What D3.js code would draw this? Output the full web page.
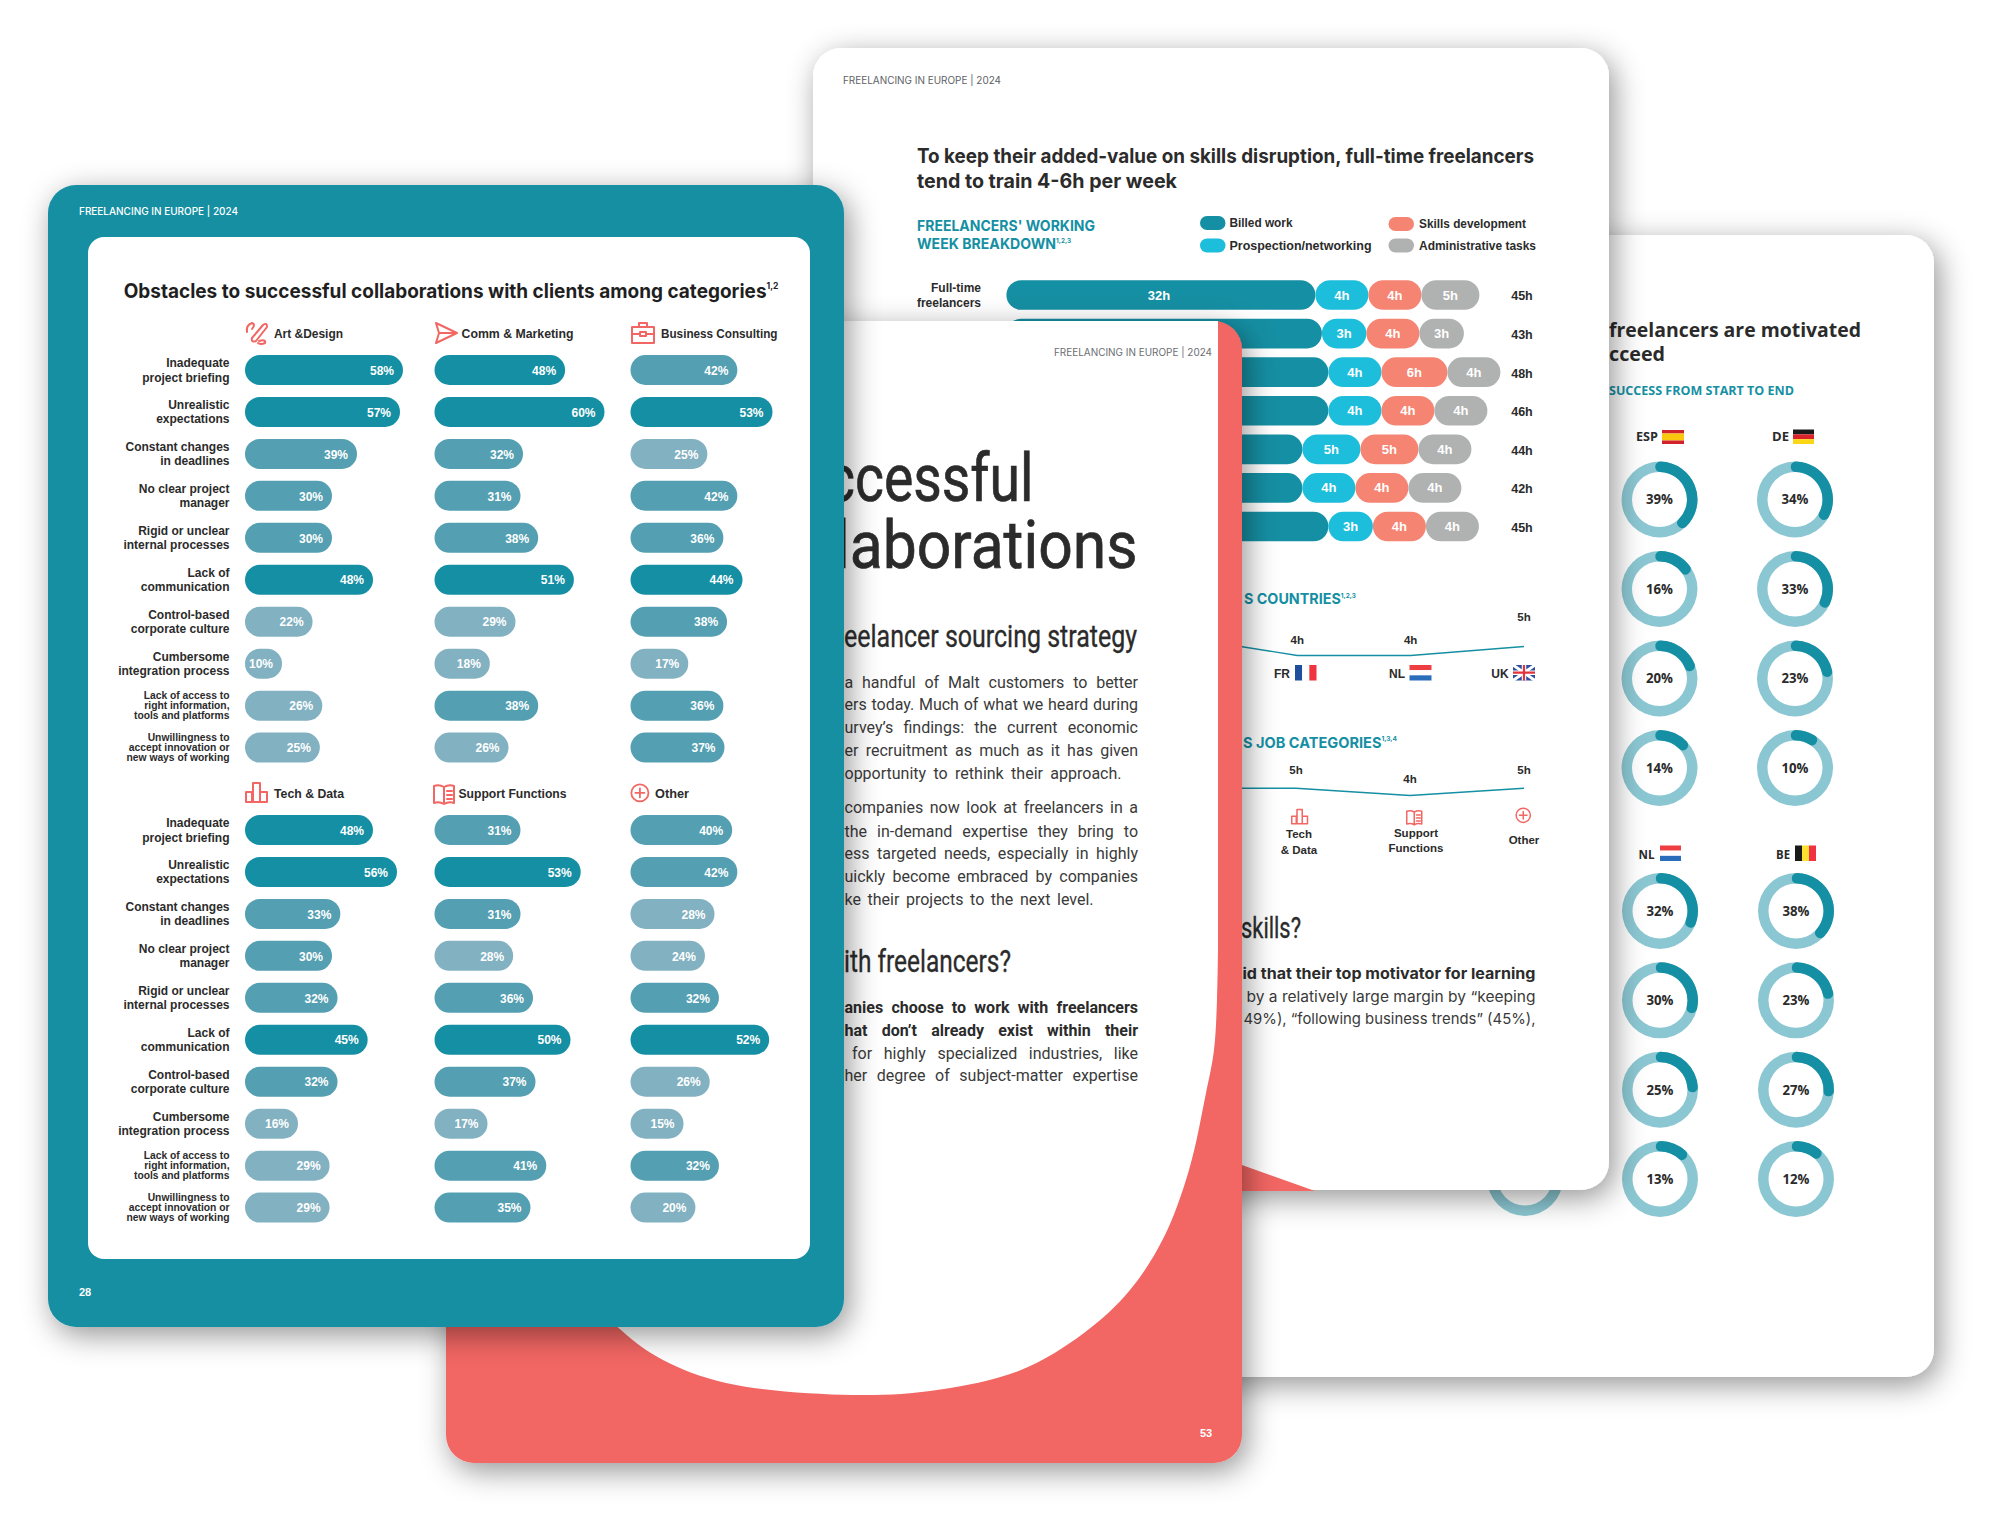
<!DOCTYPE html>
<html><head><meta charset="utf-8">
<script src="https://cdn.jsdelivr.net/npm/d3@7"></script>
<style>html,body{margin:0;padding:0;background:#fff}svg{display:block}</style>
</head><body><svg id="c" width="2000" height="1529" viewBox="0 0 2000 1529"></svg>
<script>
// ---------- DATA ----------
const obstacles = [
  ["Inadequate","project briefing"],["Unrealistic","expectations"],["Constant changes","in deadlines"],
  ["No clear project","manager"],["Rigid or unclear","internal processes"],["Lack of","communication"],
  ["Control-based","corporate culture"],["Cumbersome","integration process"],
  ["Lack of access to","right information,","tools and platforms"],["Unwillingness to","accept innovation or","new ways of working"]];
const artDesign   = [58,57,39,30,30,48,22,10,26,25];
const commMarket  = [48,60,32,31,38,51,29,18,38,26];
const bizConsult  = [42,53,25,42,36,44,38,17,36,37];
const techData    = [48,56,33,30,32,45,32,16,29,29];
const supportFn   = [31,53,31,28,36,50,37,17,41,35];
const otherCat    = [40,42,28,24,32,52,26,15,32,20];

const weekSeries  = ["Billed work","Prospection/networking","Skills development","Administrative tasks"];
const billed      = [32,33,34,34,30,30,34];
const prospection = [4,3,4,4,5,4,3];
const skills      = [4,4,6,4,5,4,4];
const admin       = [5,3,4,4,4,4,4];
const weekTotals  = [45,43,48,46,44,42,45];

const countryCats = ["DE","FR","NL","UK"];
const countryHrs  = [6,4,4,5];
const jobCats     = ["Comm","Tech & Data","Support Functions","Other"];
const jobHrs      = [5,5,4,5];

const donutESP = [39,16,20,14];
const donutDE  = [34,33,23,10];
const donutNL  = [32,30,25,13];
const donutBE  = [38,23,27,12];

// ---------- COLOURS / HELPERS ----------
const TEAL="#158fa3", CORAL="#f26663", INK="#2b2b2b";
const SANS="'Liberation Sans',Arial,sans-serif", INTER="Inter,sans-serif", WIDE="'Open Sans',sans-serif";
const svg=d3.select("#c");
const defs=svg.append("defs");
const f=defs.append("filter").attr("id","sh").attr("x","-15%").attr("y","-15%").attr("width","130%").attr("height","130%");
f.append("feDropShadow").attr("dx",5).attr("dy",8).attr("stdDeviation",15).attr("flood-color","#000").attr("flood-opacity",.42);

function T(g,x,y,s,o={}){
  const size=o.size||12;
  const t=g.append("text").attr("y",y).attr("dy",".35em")
    .attr("font-family",o.font||SANS).attr("font-size",size)
    .attr("font-weight",o.weight||"normal").attr("fill",o.fill||INK);
  t.append("tspan").text(s);
  if(o.sup) t.append("tspan").text(o.sup).attr("dy",-size*.45).attr("font-size",size*.45);
  if(o.bold) t.attr("stroke",o.fill||INK).attr("stroke-width",o.bold);
  if(o.w){
    const x0=o.anchor==="end"?x-o.w:(o.anchor==="middle"?x-o.w/2:x);
    t.attr("x",x0).attr("textLength",o.w).attr("lengthAdjust","spacingAndGlyphs");
  } else t.attr("x",x).attr("text-anchor",o.anchor||"start");
  return t;
}
// justified body line: the gap goes between the words, as in the reference
function J(g,x,y,s,w,o={}){
  const t=T(g,x,y,s,o);
  const n=s.split(" ").length-1, nat=t.node().getComputedTextLength();
  if(n>0) t.attr("word-spacing",(w-nat)/n);
  return t;
}
function page(g,x,y,r,fill){
  return g.append("rect").attr("x",x).attr("y",y).attr("width",796).attr("height",1142)
    .attr("rx",r).attr("ry",r).attr("fill",fill).attr("filter","url(#sh)");
}
function icon(g,name,x,y,s){
  const i=g.append("g").attr("transform",`translate(${x},${y}) scale(${s})`)
    .attr("fill","none").attr("stroke",CORAL).attr("stroke-width",2).attr("stroke-linejoin","round").attr("stroke-linecap","round");
  const p=d=>i.append("path").attr("d",d);
  if(name==="art"){p("M7 17 L18 4 Q22 1 22 6 L11 20 Q6 22 7 17");p("M2 11 Q1 4 7 2 Q11 3 7 8");p("M14 20 Q21 18 20 22 Q16 24 13 22");}
  if(name==="comm"){p("M1 1 L22 11 L1 21 L4 11 Z M4 11 H22");}
  if(name==="biz"){p("M1 6 H23 V22 H1 Z M8 6 V2 H16 V6 M1 13 H9 M15 13 H23");i.append("rect").attr("x",9).attr("y",11).attr("width",6).attr("height",4);}
  if(name==="tech"){p("M1 11 H7 V21 H1 Z M8 2 H15 V21 H8 Z M15 11 H22 V21 H15 Z");}
  if(name==="support"){p("M1 3 Q6 1 11 4 Q16 1 21 3 V20 Q16 18 11 21 Q6 18 1 20 Z M11 4 V21 M14 8 H19 M14 12 H19 M14 16 H19");}
  if(name==="other"){i.append("circle").attr("cx",11).attr("cy",11).attr("r",9.5);p("M11 6 V16 M6 11 H16");}
}
function flag(g,x,y,w,h,cols,vertical){
  const n=cols.length;
  const b=d3.scaleBand().domain(d3.range(n)).range(vertical?[x,x+w]:[y,y+h]);
  cols.forEach((c,i)=>{
    if(vertical) g.append("rect").attr("x",b(i)).attr("y",y).attr("width",b.bandwidth()).attr("height",h).attr("fill",c);
    else g.append("rect").attr("x",x).attr("y",b(i)).attr("width",w).attr("height",b.bandwidth()).attr("fill",c);
  });
}

// ---------- RIGHT PAGE ----------
const pR=svg.append("g"); page(pR,1138,235,28,"#fff");
T(pR,1609,330,"freelancers are motivated",{font:WIDE,weight:700,size:19,w:252});
T(pR,1609,354.5,"cceed",{font:WIDE,weight:700,size:19,w:56});
T(pR,1609,391,"SUCCESS FROM START TO END",{font:WIDE,weight:700,size:12,w:185,fill:TEAL});
const R0=27.5,R1=38;
const ringArc=d3.arc().innerRadius(R0).outerRadius(R1).startAngle(0).endAngle(2*Math.PI);
const capPad=0.13;
const valArc=d3.arc().innerRadius(R0).outerRadius(R1).cornerRadius(5.2);
const angle=d3.scaleLinear().domain([0,100]).range([0,2*Math.PI]);
function donuts(vals,cx,cy){
  const y=d3.scalePoint().domain(d3.range(vals.length)).range(cy);
  vals.forEach((v,i)=>{
    const g=pR.append("g").attr("transform",`translate(${cx},${y(i)})`);
    g.append("path").attr("d",ringArc()).attr("fill","#8bc7d2");
    g.append("path").attr("d",valArc({startAngle:-capPad,endAngle:angle(v)+capPad*.6})).attr("fill",TEAL);
    T(g,0,0,v+"%",{font:WIDE,weight:700,size:14,anchor:"middle",w:27});
  });
}
pR.append("path").attr("transform","translate(1525,1178)").attr("d",ringArc()).attr("fill","#8bc7d2");
donuts(donutESP,1659.5,[499.5,768]);
donuts(donutDE,1795,[499.5,768]);
donuts(donutNL,1660,[911,1179]);
donuts(donutBE,1796,[911,1179]);
T(pR,1636,437,"ESP",{font:WIDE,weight:700,size:12,w:22});
flag(pR,1662,430,22,14,["#d2232a","#f9c80e","#f9c80e","#d2232a"]);
T(pR,1772,437,"DE",{font:WIDE,weight:700,size:12,w:17});
flag(pR,1793,429.5,21,14.5,["#1a1a1a","#d8232a","#f9d616"]);
T(pR,1638.5,854.5,"NL",{font:WIDE,weight:700,size:12,w:16});
flag(pR,1660,845.5,21,15.5,["#ef3e42","#fff","#2a6ebb"]);
T(pR,1776,854.5,"BE",{font:WIDE,weight:700,size:12,w:14});
flag(pR,1795,845.5,21,15.5,["#1a1a1a","#fde02f","#ef3340"],true);

// ---------- TOP PAGE ----------
const pT=svg.append("g"); page(pT,813,48,28,"#fff");
pT.append("path").attr("d","M1200 1150 L1315 1191 H1200 Z").attr("fill",CORAL);
T(pT,843,80,"FREELANCING IN EUROPE | 2024",{size:10,fill:"#5e6266",w:158,font:INTER});
T(pT,917,156,"To keep their added-value on skills disruption, full-time freelancers",{font:INTER,weight:700,size:20,w:617});
T(pT,917,181,"tend to train 4-6h per week",{font:INTER,weight:700,size:20,w:260});
T(pT,917,226,"FREELANCERS' WORKING",{font:INTER,weight:700,size:15,w:178,fill:TEAL});
T(pT,917,244,"WEEK BREAKDOWN",{font:INTER,weight:700,size:15,w:154,fill:TEAL,sup:"1,2,3"});
const segCols=d3.scaleOrdinal().domain(weekSeries).range([TEAL,"#1dbddc","#f58472","#b0b1b1"]);
[[1200,223,0],[1200,245.5,1],[1388.5,224,2],[1388.5,245.5,3]].forEach(([x,y,i])=>{
  pT.append("rect").attr("x",x).attr("y",y-7).attr("width",25.5).attr("height",14).attr("rx",7).attr("fill",segCols(weekSeries[i]));
});
T(pT,1229.5,223,weekSeries[0],{weight:700,size:12,w:63});
T(pT,1229.5,245.5,weekSeries[1],{weight:700,size:12,w:142});
T(pT,1419,224,weekSeries[2],{weight:700,size:12,w:107});
T(pT,1419,245.5,weekSeries[3],{weight:700,size:12,w:117});
const hrW=d3.scaleLinear().domain([3,4,5,6,30,34]).range([44.5,53,58,66,296,322]);
const rowY=d3.scaleLinear().domain([0,6]).range([295,526.5]);
const weekRows=d3.range(billed.length).map(i=>[billed[i],prospection[i],skills[i],admin[i]]);
weekRows.forEach((vals,r)=>{
  let x=1006.4;
  vals.forEach((v,k)=>{
    const w=hrW(v);
    pT.append("rect").attr("x",x).attr("y",rowY(r)-14.8).attr("width",w).attr("height",29.6).attr("rx",14.8).attr("fill",segCols(weekSeries[k]));
    // the billed-hours labels of the lower rows lie behind the coral page in the reference
    if(k>0||r===0) T(pT,x+w/2-(k===0?2:0),rowY(r),v+"h",{weight:700,size:13,fill:"#fff",anchor:"middle"});
    x+=w;
  });
  T(pT,1522,rowY(r)+1,weekTotals[r]+"h",{weight:700,size:12.5,anchor:"middle"});
});
T(pT,981,288,"Full-time",{weight:700,size:12,anchor:"end"});
T(pT,981,303,"freelancers",{weight:700,size:12,anchor:"end"});

// line: countries
T(pT,1356,599,"S COUNTRIES",{font:INTER,weight:700,size:15,w:112,anchor:"end",fill:TEAL,sup:"1,2,3"});
const cx=d3.scalePoint().domain(countryCats).range([1184,1524]);
const cy=d3.scaleLinear().domain([4,5]).range([655.5,646.5]);
const cLab=d3.scaleLinear().domain([4,5]).range([639.5,617]);
const lineC=d3.line().x((d,i)=>cx(countryCats[i])).y(d=>cy(d));
pT.append("path").attr("d",lineC(countryHrs)).attr("fill","none").attr("stroke",TEAL).attr("stroke-width",1.4);
countryHrs.slice(1).forEach((v,i)=>T(pT,cx(countryCats[i+1]),cLab(v),v+"h",{weight:700,size:11.5,anchor:"middle"}));
T(pT,1282,674,"FR",{weight:700,size:12,anchor:"middle"});
flag(pT,1295,665,21.5,15.5,["#1f4e9c","#fff","#ef3340"],true);
T(pT,1397,674,"NL",{weight:700,size:12,anchor:"middle"});
flag(pT,1409.5,665,22,15.5,["#ef3e42","#fff","#2a6ebb"]);
T(pT,1500,674,"UK",{weight:700,size:12,anchor:"middle"});
const uk=pT.append("g");
uk.append("rect").attr("x",1513).attr("y",665).attr("width",22).attr("height",15.5).attr("fill","#2a4f9e");
uk.append("path").attr("d","M1513 665L1535 680.5M1535 665L1513 680.5").attr("stroke","#fff").attr("stroke-width",3);
uk.append("path").attr("d","M1524 665V680.5M1513 672.7H1535").attr("stroke","#fff").attr("stroke-width",4.5);
uk.append("path").attr("d","M1524 665V680.5M1513 672.7H1535").attr("stroke","#e2333f").attr("stroke-width",2.2);

// line: job categories
T(pT,1397,742.5,"S JOB CATEGORIES",{font:INTER,weight:700,size:15,w:154,anchor:"end",fill:TEAL,sup:"1,3,4"});
const jx=d3.scalePoint().domain(jobCats).range([1182,1524]);
const jy=d3.scaleLinear().domain([4,5]).range([795.5,788.2]);
const jLab=d3.scaleLinear().domain([4,5]).range([778.7,770]);
const lineJ=d3.line().x((d,i)=>jx(jobCats[i])).y(d=>jy(d));
pT.append("path").attr("d",lineJ(jobHrs)).attr("fill","none").attr("stroke",TEAL).attr("stroke-width",1.4);
jobHrs.slice(1).forEach((v,i)=>T(pT,jx(jobCats[i+1]),jLab(v),v+"h",{weight:700,size:11.5,anchor:"middle"}));
icon(pT,"tech",1291,808,.75); icon(pT,"support",1406,809,.75); icon(pT,"other",1515,807,.75);
T(pT,1299,834,"Tech",{weight:700,size:11.5,anchor:"middle"});
T(pT,1299,849.5,"& Data",{weight:700,size:11.5,anchor:"middle"});
T(pT,1416,833,"Support",{weight:700,size:11.5,anchor:"middle"});
T(pT,1416,848,"Functions",{weight:700,size:11.5,anchor:"middle"});
T(pT,1524,840,"Other",{weight:700,size:11.5,anchor:"middle"});
const NARROW="'Liberation Sans Narrow',Roboto,sans-serif";
T(pT,1301,927,"skills?",{font:NARROW,size:30,anchor:"end",w:60,bold:.35});
T(pT,1535.5,973.5,"id that their top motivator for learning",{font:INTER,weight:700,size:15,anchor:"end",w:293});
T(pT,1535.5,997,"by a relatively large margin by \u201ckeeping",{font:INTER,size:15,anchor:"end",w:289,fill:"#3a3a3a"});
T(pT,1535.5,1019,"49%), \u201cfollowing business trends\u201d (45%),",{font:INTER,size:15,anchor:"end",w:292,fill:"#3a3a3a"});

// ---------- CORAL PAGE ----------
const pC=svg.append("g"); page(pC,446,321,28,CORAL);
const whiteEdge=[[1218,950],[1217,1000],[1214,1050],[1206,1093],[1189,1170],[1164,1237],[1130,1290],[1084,1333],[1021,1370],[937,1390],[852,1395],[726,1383],[663,1360],[621,1330],[560,1260]];
const edgePath=d3.line().curve(d3.curveCatmullRom.alpha(.5))(whiteEdge);
pC.append("path").attr("d","M446 321 H1218 L"+edgePath.slice(1)+" L446 1100 Z").attr("fill","#fff");
T(pC,1054,352.5,"FREELANCING IN EUROPE | 2024",{size:10,fill:"#6a6e72",w:158,font:INTER});
T(pC,826,478,"ccessful",{font:NARROW,size:66,w:207.5,bold:.7});
T(pC,835,545,"laborations",{font:NARROW,size:66,w:302.5,bold:.7});
T(pC,844,636,"eelancer sourcing strategy",{font:NARROW,size:31,w:293,bold:.35});
const BODY={font:"Roboto,sans-serif",size:16,fill:"#3a3a3a"};
[[682,"a handful of Malt customers to better",293.5],[704.7,"ers today. Much of what we heard during",293.5],
 [727,"urvey\u2019s findings: the current economic",293.5],[750.6,"er recruitment as much as it has given",293.5],
 [773,"opportunity to rethink their approach.",277],[807.8,"companies now look at freelancers in a",293.5],
 [831,"the in-demand expertise they bring to",293.5],[853.7,"ess targeted needs, especially in highly",293.5],
 [876,"uickly become embraced by companies",293.5],[899.6,"ke their projects to the next level.",249]
].forEach(([y,s,w])=>J(pC,844.5,y,s,w,BODY));
T(pC,844,961,"ith freelancers?",{font:NARROW,size:31,w:167,bold:.35});
J(pC,844.5,1007,"anies choose to work with freelancers",293.5,{...BODY,weight:700,fill:INK});
J(pC,844.5,1030.7,"hat don\u2019t already exist within their",293.5,{...BODY,weight:700,fill:INK});
J(pC,852,1053,"for highly specialized industries, like",286,BODY);
J(pC,844.5,1075.6,"her degree of subject-matter expertise",293.5,BODY);
T(pC,1206,1433,"53",{weight:700,size:11,fill:"#fff",anchor:"middle"});

// ---------- TEAL PAGE ----------
const pL=svg.append("g"); page(pL,48,185,28,TEAL);
pL.append("rect").attr("x",88).attr("y",237).attr("width",722).attr("height",1022).attr("rx",16).attr("fill","#fff");
T(pL,79,211,"FREELANCING IN EUROPE | 2024",{size:10,fill:"#fff",w:159,font:INTER,weight:500});
T(pL,79,1292,"28",{weight:700,size:11,fill:"#fff"});
T(pL,123.7,291,"Obstacles to successful collaborations with clients among categories",{font:INTER,weight:700,size:20,w:654.8,fill:"#1f1f1f",sup:"1,2"});

const barScales=[
  d3.scaleLinear().domain([10,16,30,39,48,58]).range([37,53,87,112,128,158]),
  d3.scaleLinear().domain([17,29,37,50,60]).range([53,81,101,136,170]),
  d3.scaleLinear().domain([15,28,37,44,53]).range([53,84,94,112,142])];
const barColor=d3.scaleThreshold().domain([30,44]).range(["#82b1c1","#549fb2",TEAL]);
const colX=[245,434.5,630.5];
function panels(top,series,heads){
  const row=d3.scaleLinear().domain([0,9]).range([top,top+377.6]);
  obstacles.forEach((lines,i)=>{
    const n=lines.length, sz=n===3?10.3:12, lh=n===3?10.2:14.6;
    lines.forEach((s,j)=>T(pL,229.5,row(i)+(j-(n-1)/2)*lh,s,{weight:700,size:sz,anchor:"end"}));
  });
  series.forEach((vals,c)=>{
    const g=pL.append("g"), barW=barScales[c];
    g.selectAll("rect").data(vals).join("rect")
      .attr("x",colX[c]).attr("y",(d,i)=>row(i)-15).attr("height",30)
      .attr("width",d=>barW(d)).attr("rx",15).attr("fill",d=>barColor(d));
    vals.forEach((v,i)=>T(g,colX[c]+barW(v)-9,row(i)+.5,v+"%",{weight:700,size:12,fill:"#fff",anchor:"end"}));
  });
  heads.forEach(h=>{
    icon(pL,h.icon,h.ix,h.iy,h.s||1);
    T(pL,h.x,top-36.5,h.t,{weight:700,size:12,w:h.w});
  });
}
panels(370,[artDesign,commMarket,bizConsult],[
  {t:"Art &Design",x:274,w:69,icon:"art",ix:245,iy:321},
  {t:"Comm & Marketing",x:461.5,w:112,icon:"comm",ix:435,iy:322},
  {t:"Business Consulting",x:661,w:116.5,icon:"biz",ix:631,iy:321}]);
panels(830,[techData,supportFn,otherCat],[
  {t:"Tech & Data",x:274,w:70,icon:"tech",ix:245,iy:781},
  {t:"Support Functions",x:458.5,w:108,icon:"support",ix:433,iy:783},
  {t:"Other",x:655,w:34,icon:"other",ix:630,iy:783,s:.9}]);
</script></body></html>
